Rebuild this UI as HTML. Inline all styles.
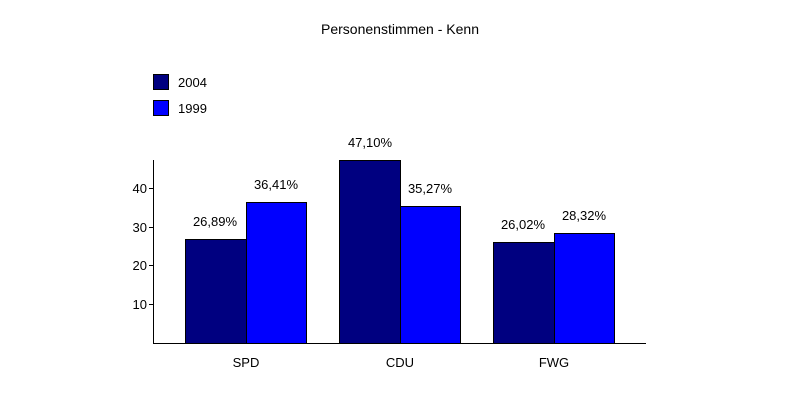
<!DOCTYPE html>
<html><head><style>body{margin:0;background:#fff}</style></head><body>
<svg width="800" height="400" xmlns="http://www.w3.org/2000/svg" font-family="Liberation Sans, sans-serif" font-size="13">
<rect width="800" height="400" fill="#fff"/>
<text x="400" y="34" text-anchor="middle" font-size="14">Personenstimmen - Kenn</text>
<rect x="153.5" y="74.5" width="15" height="15" fill="#000080" stroke="#000"/>
<text x="178" y="87">2004</text>
<rect x="153.5" y="100.5" width="15" height="15" fill="#0000ff" stroke="#000"/>
<text x="178" y="113">1999</text>
<g stroke="#000" stroke-width="1">
<rect x="185.5" y="239.5" width="61" height="104" fill="#000080"/>
<rect x="246.5" y="202.5" width="60" height="141" fill="#0000ff"/>
<rect x="339.5" y="160.5" width="61" height="183" fill="#000080"/>
<rect x="400.5" y="206.5" width="60" height="137" fill="#0000ff"/>
<rect x="493.5" y="242.5" width="61" height="101" fill="#000080"/>
<rect x="554.5" y="233.5" width="60" height="110" fill="#0000ff"/>
<path d="M153.5 160V343.5H646 M149 188.5H153 M149 227.5H153 M149 265.5H153 M149 304.5H153" fill="none"/>
</g>
<g text-anchor="end"><text x="147" y="193">40</text><text x="147" y="232">30</text><text x="147" y="270">20</text><text x="147" y="309">10</text></g>
<g text-anchor="middle">
<text x="215" y="226">26,89%</text><text x="276" y="189">36,41%</text>
<text x="370" y="147">47,10%</text><text x="430" y="193">35,27%</text>
<text x="523" y="229">26,02%</text><text x="584" y="220">28,32%</text>
<text x="246" y="367">SPD</text><text x="400" y="367">CDU</text><text x="554" y="367">FWG</text>
</g>
</svg>
</body></html>
